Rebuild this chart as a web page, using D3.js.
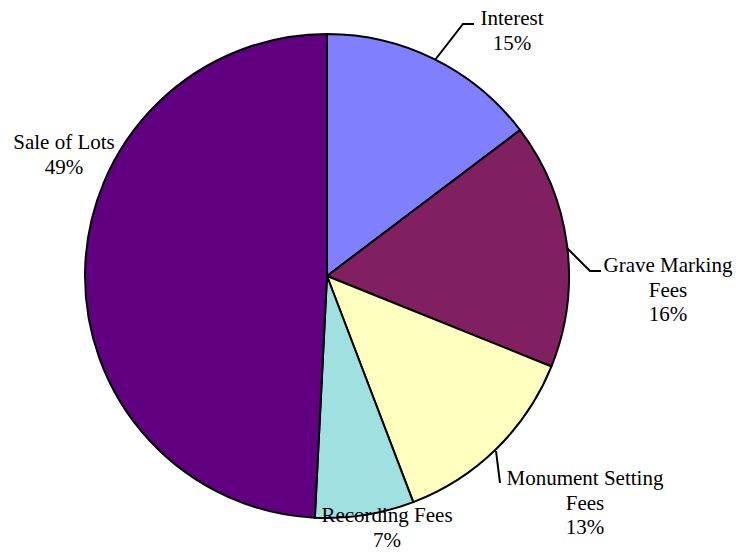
<!DOCTYPE html>
<html>
<head>
    <meta charset="utf-8">
    <title>Revenue Sources Pie</title>
    <script src="https://cdn.jsdelivr.net/npm/d3@7"></script>
    <style>
        body { margin: 0; background: #fff; }
        text { font-family: "Liberation Serif", "Times New Roman", serif; font-size: 21px; fill: #000; }
    </style>
</head>
<body>
<div id="chart"></div>
<script>
// data
var categories = ["Interest", "Grave Marking Fees", "Monument Setting Fees", "Recording Fees", "Sale of Lots"];
var shares = [14.7, 16.4, 13.1, 6.6, 49.2];
var colors = ["#8080ff", "#802060", "#ffffc0", "#a0e0e0", "#600080"];
// how each category name wraps in the picture
var nameLines = [["Interest"], ["Grave Marking", "Fees"], ["Monument Setting", "Fees"], ["Recording Fees"], ["Sale of Lots"]];

var width = 740, height = 553;
var cx = 327, cy = 276, radius = 242;

var svg = d3.select("#chart").append("svg")
    .attr("width", width)
    .attr("height", height);

var g = svg.append("g").attr("transform", "translate(" + cx + "," + cy + ")");

var pie = d3.pie().sort(null).value(function(d) { return d; });
var arc = d3.arc().innerRadius(0).outerRadius(radius);
var arcs = pie(shares);

g.selectAll("path.slice")
    .data(arcs)
    .enter().append("path")
    .attr("class", "slice")
    .attr("d", arc)
    .attr("fill", function(d, i) { return colors[i]; })
    .attr("stroke", "#000")
    .attr("stroke-width", 2)
    .attr("stroke-linejoin", "round");

// label placement (center x, first baseline), relative to the pie centre
var labelPos = [
    [185, -251],
    [341, -4],
    [258, 209],
    [60, 246],
    [-263, -127]
];
var lineGap = 24.5;

// leader lines: from slice edge to an elbow, then short horizontal
var leaders = [
    [[435, 60], [463, 24], [474, 24]],
    [[567, 248], [590, 271], [601, 271]],
    [[496, 451], [500, 483]]
];

var line = d3.line();
svg.selectAll("path.leader")
    .data(leaders)
    .enter().append("path")
    .attr("class", "leader")
    .attr("d", line)
    .attr("fill", "none")
    .attr("stroke", "#000")
    .attr("stroke-width", 2);

var labels = g.selectAll("text.lbl")
    .data(categories)
    .enter().append("text")
    .attr("class", "lbl")
    .attr("text-anchor", "middle")
    .attr("x", function(d, i) { return labelPos[i][0]; })
    .attr("y", function(d, i) { return labelPos[i][1]; });

labels.each(function(d, i) {
    var t = d3.select(this);
    var rows = nameLines[i].concat([Math.round(shares[i]) + "%"]);
    rows.forEach(function(s, k) {
        t.append("tspan")
            .attr("x", labelPos[i][0])
            .attr("dy", k === 0 ? 0 : lineGap)
            .text(s);
    });
});
</script>
</body>
</html>
